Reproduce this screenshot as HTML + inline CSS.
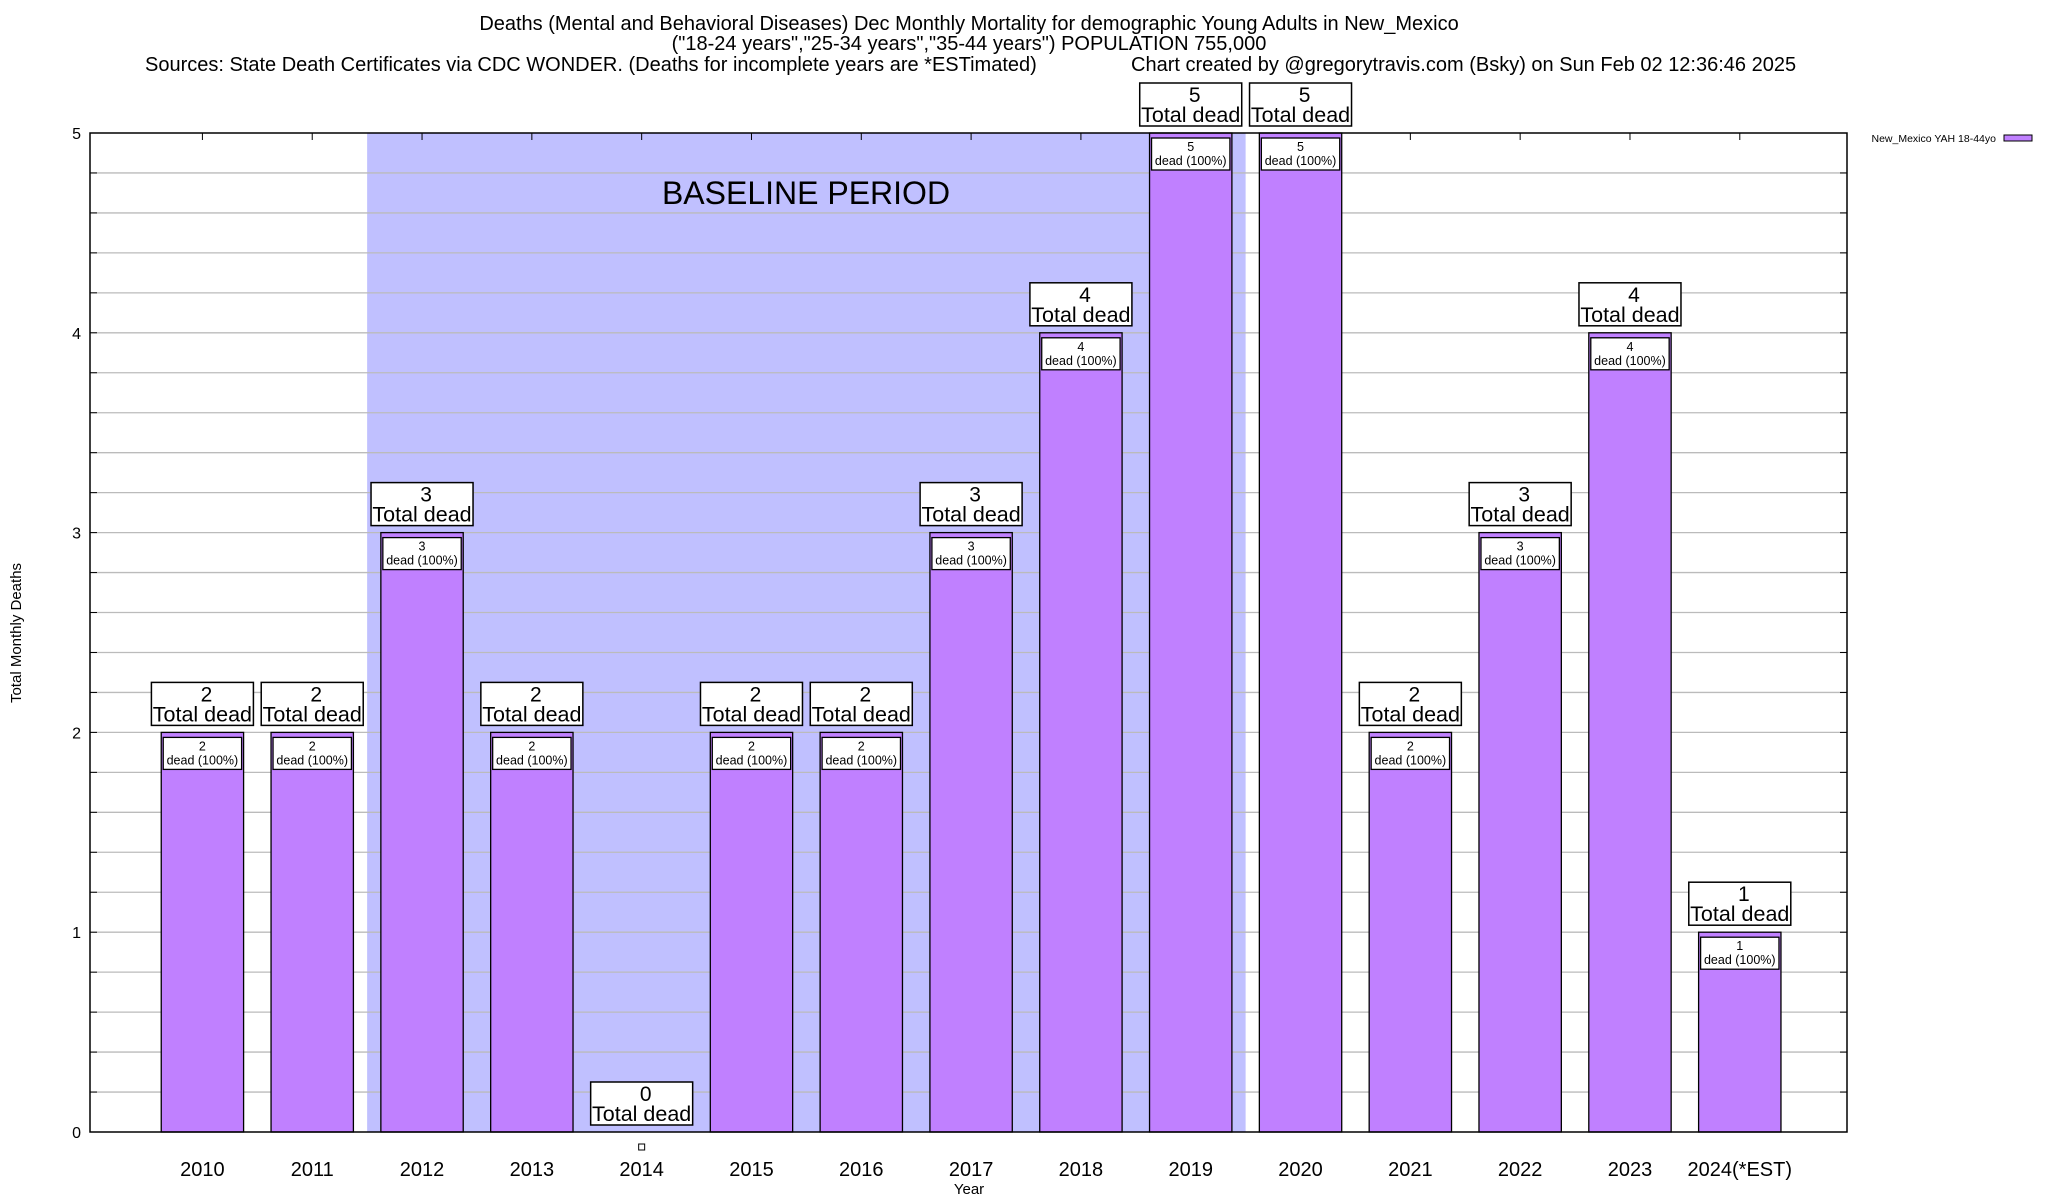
<!DOCTYPE html>
<html><head><meta charset="utf-8"><style>
html,body{margin:0;padding:0;background:#fff;}
svg{display:block;font-family:"Liberation Sans",Arial,sans-serif;}
</style></head><body>
<svg id="chart" width="2048" height="1200" viewBox="0 0 2048 1200" xmlns="http://www.w3.org/2000/svg">
<rect width="2048" height="1200" fill="#fff"/>
<text x="969" y="30" font-size="20" text-anchor="middle">Deaths (Mental and Behavioral Diseases) Dec Monthly Mortality for demographic Young Adults in New_Mexico</text>
<text x="969" y="50" font-size="20" text-anchor="middle">("18-24 years","25-34 years","35-44 years") POPULATION 755,000</text>
<text x="145" y="71" font-size="20">Sources: State Death Certificates via CDC WONDER. (Deaths for incomplete years are *ESTimated)</text>
<text x="1131" y="71" font-size="20">Chart created by @gregorytravis.com (Bsky) on Sun Feb 02 12:36:46 2025</text>
<g id="plot"></g>
<text transform="translate(21,633) rotate(-90)" font-size="15" text-anchor="middle">Total Monthly Deaths</text>
<text x="969" y="1194" font-size="15" text-anchor="middle">Year</text>
<g>
<text x="1996" y="142" font-size="10.5" text-anchor="end">New_Mexico YAH 18-44yo</text>
<rect x="2004" y="135" width="28" height="6" fill="#c080ff" stroke="#000" stroke-width="1"/>
</g>
</svg>
<script>
const categories = ["2010","2011","2012","2013","2014","2015","2016","2017","2018","2019","2020","2021","2022","2023","2024(*EST)"];
const deaths = [2,2,3,2,0,2,2,3,4,5,5,2,3,4,1];
const yTicks = [0,1,2,3,4,5];
const baseline = [2011.5, 2019.5];

const L=90,R=1847,T=133,B=1132;
const slot=(R-L)/16;
const OFF=2.6;
function xPos(i){return L+OFF+(i+1)*slot;}
function xYear(v){return L+OFF+(v-2009)*slot;}
function yPos(v){return B-(v/5)*(B-T);}
const NS="http://www.w3.org/2000/svg";
const g=document.getElementById('plot');
function mk(tag,attrs,txt){const e=document.createElementNS(NS,tag);for(const k in attrs)e.setAttribute(k,attrs[k]);if(txt!==undefined)e.textContent=txt;g.appendChild(e);return e;}

let sh=mk('rect',{x:xYear(baseline[0]),y:T,width:xYear(baseline[1])-xYear(baseline[0]),height:B-T,fill:'#c0c0ff'});


for(let k=1;k<25;k++){
  const v=k*0.2;
  const ln=mk('line',{x1:L,x2:R,y1:yPos(v),y2:yPos(v),stroke:'#bbb','stroke-width':1.3});
  
  
  mk('line',{x1:L,x2:L+7,y1:yPos(v),y2:yPos(v),stroke:'#000'});
  mk('line',{x1:R-7,x2:R,y1:yPos(v),y2:yPos(v),stroke:'#000'});
}
let bl=mk('text',{x:806,y:204,'font-size':32,'text-anchor':'middle'},'BASELINE PERIOD');


yTicks.forEach(v=>{
  const t=mk('text',{x:81,y:yPos(v)+6,'font-size':16,'text-anchor':'end'},String(v));
  
  
});
const bw=slot*0.75;
categories.forEach((c,i)=>{
  const cx=xPos(i), v=deaths[i];
  mk('line',{x1:cx,x2:cx,y1:T,y2:T+7,stroke:'#000'});
  const lab=mk('text',{x:cx,y:1176,'font-size':20,'text-anchor':'middle'},c);
  
  
  if(v>0){
    const b=mk('rect',{x:cx-bw/2,y:yPos(v),width:bw,height:B-yPos(v),fill:'#c080ff',stroke:'#000','stroke-width':1.3});
    
    
    const ib=mk('rect',{x:cx-bw/2+2,y:yPos(v)+5,width:bw-4,height:32,fill:'#fff',stroke:'#000','stroke-width':1.3});
    
    
    mk('text',{x:cx,y:yPos(v)+18,'font-size':12.5,'text-anchor':'middle'},String(v));
    mk('text',{x:cx,y:yPos(v)+32,'font-size':12.5,'text-anchor':'middle'},'dead (100%)');
  } else {
    const m=mk('rect',{x:cx-3,y:B+12,width:6,height:6,fill:'#fff',stroke:'#000'});
    
    
  }
  const by=yPos(v)-7-43;
  const ob=mk('rect',{x:cx-51,y:by,width:102,height:43,fill:'#fff',stroke:'#000','stroke-width':1.5});
  
  
  mk('text',{x:cx+4,y:by+19,'font-size':21,'text-anchor':'middle'},String(v));
  mk('text',{x:cx,y:by+39,'font-size':21.5,'text-anchor':'middle'},'Total dead');
});
const fr=mk('rect',{x:L,y:T,width:R-L,height:B-T,fill:'none',stroke:'#000','stroke-width':1.5});


</script>
</body></html>
